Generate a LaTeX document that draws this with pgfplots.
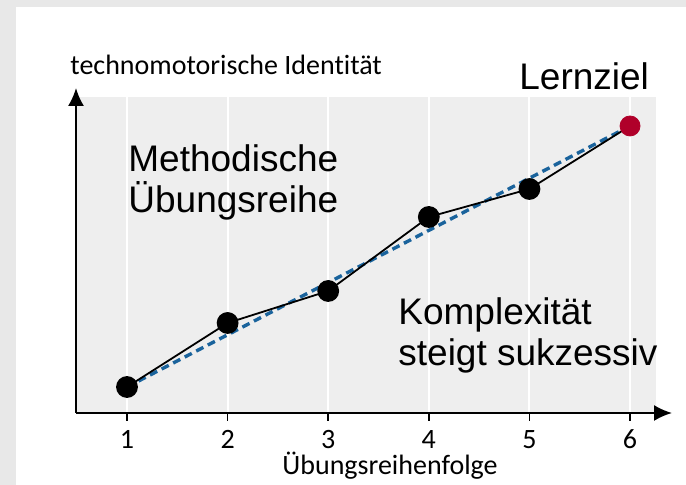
\documentclass[border=0pt]{standalone}
\usepackage{fontspec}
\usepackage{pgfplots}
\pgfplotsset{compat=1.18}
\usetikzlibrary{arrows.meta}
\setmainfont{Liberation Sans}
\newfontfamily\axfont[Ligatures=NoCommon]{Carlito}
\definecolor{outerbg}{HTML}{E8E8E8}
\definecolor{plotbg}{HTML}{EEEEEE}
\definecolor{dashblue}{HTML}{1A639C}
\definecolor{goalred}{HTML}{B0002A}
\begin{document}
\begin{tikzpicture}
\fill[outerbg] (0,0) rectangle (343pt,242.5pt);
\fill[white] (8pt,0) rectangle (343pt,239pt);
\useasboundingbox (0,0) rectangle (343pt,242.5pt);
\begin{axis}[
  at={(38pt,36pt)}, anchor=south west,
  scale only axis, width=290pt, height=158pt,
  xmin=0.493, xmax=6.258, ymin=0, ymax=316,
  axis lines=left,
  axis line style={line width=1pt},
  x axis line style={-{Latex[length=9pt,width=8pt]}, shorten >=-8pt},
  y axis line style={-{Latex[length=9pt,width=8pt]}, shorten >=-4.5pt},
  axis background/.style={fill=plotbg},
  xtick={1,2,3,4,5,6}, ytick=\empty,
  xmajorgrids, major grid style={white, line width=1pt},
  tick align=outside, major tick length=4pt,
  xtick style={black, line width=0.8pt},
  xticklabel style={font=\axfont\fontsize{14}{16}\selectfont, yshift=-1pt},
  /pgf/number format/assume math mode=true,
  clip=false,
]
\addplot[dashblue, line width=1.7pt, dash pattern=on 4pt off 2.5pt] coordinates {(1,26) (6,287)};
\addplot[black, line width=0.9pt, mark=*, mark size=5pt, mark options={fill=black}] coordinates {
(1,26) (2,90) (3,122) (4,196) (5,224)};
\addplot[black, line width=0.9pt] coordinates {(5,224) (6,287)};
\addplot[only marks, mark=*, mark size=5pt, color=goalred, mark options={fill=goalred}] coordinates {(6,287)};
\end{axis}
\node[anchor=base west, inner sep=0, font=\axfont\fontsize{14}{16}\selectfont] at (35pt,205pt) {technomotorische Identität};
\node[anchor=base, inner sep=0, font=\axfont\fontsize{14}{16}\selectfont] at (195pt,5pt) {Übungsreihenfolge};
\node[anchor=base west, inner sep=0, font=\fontsize{18.5}{21}\selectfont] at (259.5pt,197.5pt) {Lernziel};
\node[anchor=base west, inner sep=0, font=\fontsize{18.5}{21}\selectfont] at (64pt,156.6pt) {Methodische};
\node[anchor=base west, inner sep=0, font=\fontsize{18.5}{21}\selectfont] at (64pt,136pt) {Übungsreihe};
\node[anchor=base west, inner sep=0, font=\fontsize{18.5}{21}\selectfont] at (199pt,80pt) {Komplexität};
\node[anchor=base west, inner sep=0, font=\fontsize{18.5}{21}\selectfont] at (199pt,59.5pt) {steigt sukzessiv};
\end{tikzpicture}
\end{document}
